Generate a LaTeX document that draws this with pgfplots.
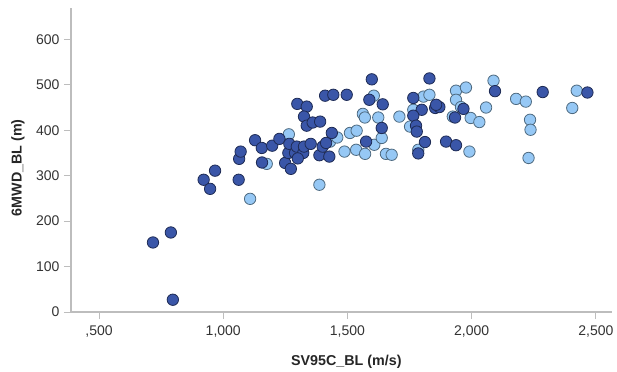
\documentclass[border=0pt]{standalone}
\usepackage{pgfplots}
\pgfplotsset{compat=1.18}
\usepackage{fontspec}
\setmainfont{Liberation Sans}
\definecolor{darkfill}{HTML}{3A56A8}
\definecolor{darkedge}{HTML}{1E2B55}
\definecolor{lightfill}{HTML}{96C8F5}
\definecolor{lightedge}{HTML}{4E6A80}
\definecolor{axgray}{HTML}{BDBDBD}
\definecolor{txtgray}{HTML}{333333}
\begin{document}
\begin{tikzpicture}
\useasboundingbox (0,0) rectangle (617bp,372bp);
\begin{axis}[
  at={(71bp,60bp)}, anchor=south west,
  scale only axis, width=541bp, height=304bp,
  xmin=387, xmax=2565, ymin=0, ymax=669,
  axis lines*=left,
  axis line style={axgray, line width=1.2bp, -},
  xtick={500,1000,1500,2000,2500},
  xticklabels={{,500},{1,000},{1,500},{2,000},{2,500}},
  ytick={0,100,200,300,400,500,600},
  yticklabels={0,100,200,300,400,500,600},
  tick align=outside, tick pos=left,
  major tick length=7bp,
  tick style={axgray, line width=0.8bp},
  ticklabel style={font=\fontsize{14bp}{16bp}\selectfont, text=txtgray},
  xticklabel style={yshift=-3bp},
  yticklabel style={xshift=-1bp},
  xlabel={\textbf{SV95C\_BL (m/s)}},
  ylabel={\textbf{6MWD\_BL (m)}},
  label style={font=\fontsize{14.3bp}{16bp}\selectfont, text=black!85},
  xlabel style={at={(axis description cs:0.509,-0.164)}, anchor=center},
  ylabel style={at={(axis description cs:-0.098,0.474)}, anchor=center, rotate=0},
  clip=false,
]
\addplot[only marks, mark=*, mark size=5.7bp, mark options={fill=lightfill, draw=lightedge, line width=0.8bp}] coordinates {
(1108,249) (1175,326) (1264,391) (1387,280) (1430,375) (1459,384)
(1488,353) (1510,394) (1537,399) (1535,357) (1571,348) (1562,436)
(1570,428) (1624,428) (1606,476) (1608,368) (1638,383) (1655,348)
(1678,346) (1709,430) (1752,408) (1765,445) (1785,357) (1806,474)
(1830,478) (1937,487) (1977,494) (2088,509) (1937,467) (1924,430)
(1957,451) (1996,427) (2031,418) (2058,450) (1991,353) (2179,469)
(2218,463) (2235,423) (2237,401) (2229,339) (2423,487) (2405,449)
};
\addplot[only marks, mark=*, mark size=5.7bp, mark options={fill=darkfill, draw=darkedge, line width=0.8bp}] coordinates {
(717,153) (789,175) (797,27) (921,291) (947,271) (967,311)
(1062,291) (1064,337) (1070,353) (1128,378) (1155,361) (1156,329)
(1197,366) (1226,381) (1249,328) (1272,315) (1262,350) (1266,370)
(1289,350) (1296,364) (1322,350) (1325,364) (1352,370) (1387,345)
(1400,364) (1414,372) (1427,342) (1298,458) (1336,452) (1325,430)
(1336,410) (1360,417) (1390,419) (1437,394) (1410,476) (1443,478)
(1497,478) (1598,512) (1588,467) (1642,457) (1765,471) (1830,514)
(1799,445) (1765,432) (1853,449) (1870,451) (1857,456) (1776,410)
(1779,397) (1638,405) (1575,375) (1812,374) (1785,349) (1897,375)
(1937,367) (1967,447) (1933,428) (2094,486) (2286,484) (2466,483)
(1300,338)
};
\end{axis}
\end{tikzpicture}
\end{document}
